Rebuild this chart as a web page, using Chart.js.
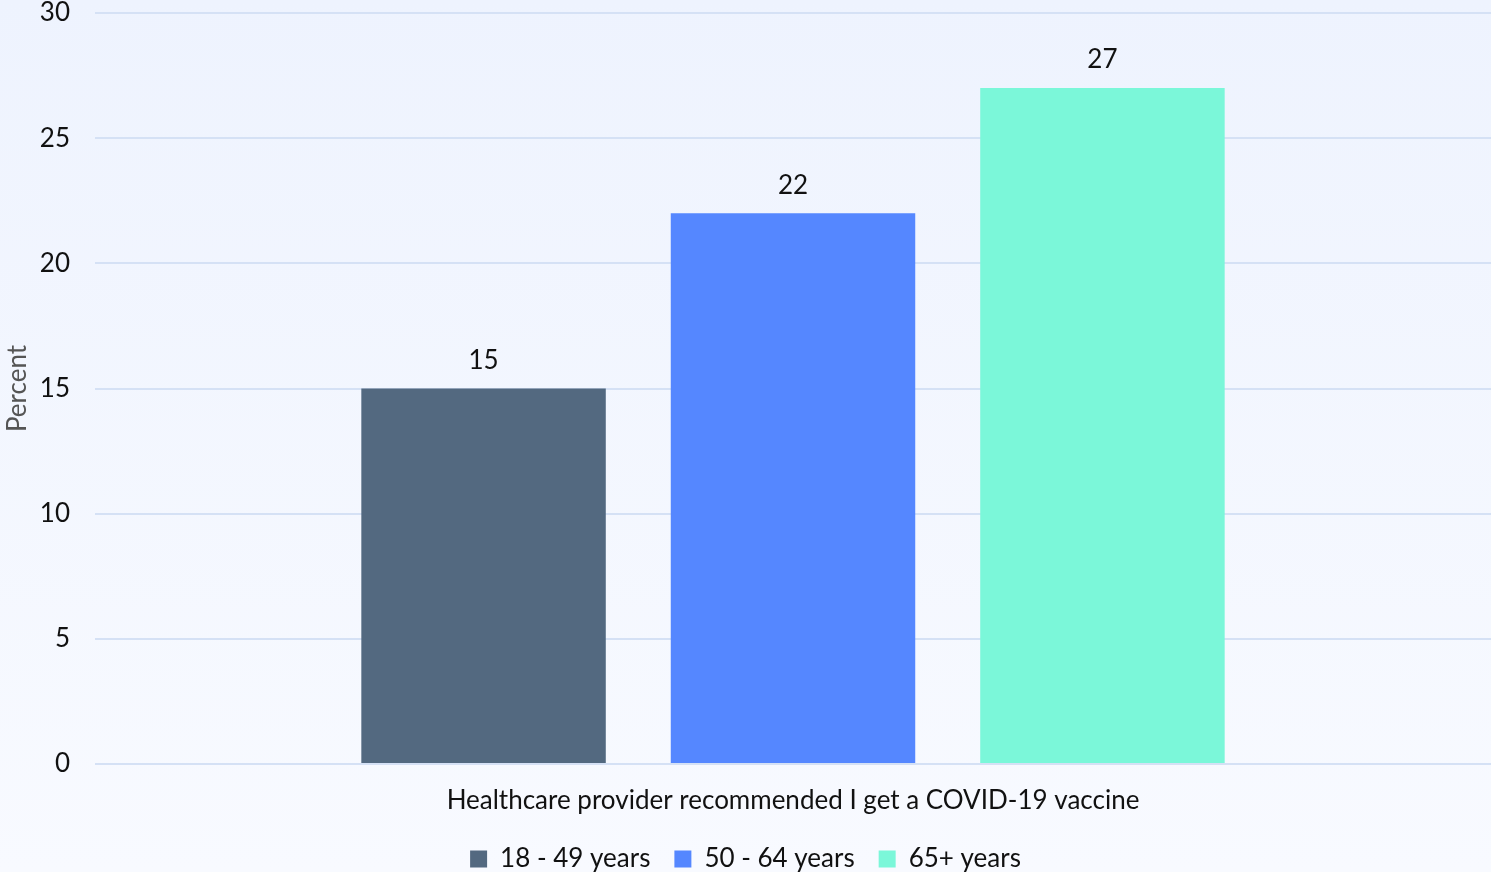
<!DOCTYPE html>
<html>
<head>
<meta charset="utf-8">
<script src="https://cdn.jsdelivr.net/npm/chart.js@4"></script>
<style>
    html, body { margin: 0; padding: 0; }
    body { background: linear-gradient(#eef3fe, #f8faff); }
    #wrap { width: 1491px; height: 872px; position: relative; }
</style>
</head>
<body>
<div id="wrap"><canvas id="chart"></canvas></div>
<script>
const categories = ['Healthcare provider recommended I get a COVID-19 vaccine'];
const groups = ['18 - 49 years', '50 - 64 years', '65+ years'];
const groupValues = [[15], [22], [27]];
const groupColors = ['#536980', '#5587ff', '#7bf7d9'];
const yTicks = [0, 5, 10, 15, 20, 25, 30];

const fontFamily = "Lato, 'Open Sans', sans-serif";

// draws each bar's value just above it
const valueLabels = {
    id: 'valueLabels',
    afterDatasetsDraw(chart) {
        const ctx = chart.ctx;
        ctx.save();
        ctx.font = '26px ' + fontFamily;
        ctx.fillStyle = '#111';
        ctx.textAlign = 'center';
        ctx.textBaseline = 'middle';
        chart.data.datasets.forEach((ds, i) => {
            chart.getDatasetMeta(i).data.forEach((bar, j) => {
                ctx.fillText(ds.data[j], bar.x, bar.y - 28);
            });
        });
        ctx.restore();
    }
};

new Chart(document.getElementById('chart'), {
    type: 'bar',
    data: {
        labels: categories,
        datasets: groups.map((g, i) => ({
            label: g,
            data: groupValues[i],
            backgroundColor: groupColors[i],
            categoryPercentage: 0.665,
            barPercentage: 0.79
        }))
    },
    options: {
        responsive: true,
        maintainAspectRatio: false,
        animation: false,
        layout: { padding: { top: 0, right: 0, left: 0, bottom: -10 } },
        scales: {
            x: {
                grid: { display: false, drawTicks: false },
                border: { display: false },
                ticks: { color: '#111', font: { family: fontFamily, size: 26 }, padding: 21 },
                afterFit: axis => { axis.height = 58; }
            },
            y: {
                min: 0,
                max: 30,
                afterBuildTicks: axis => { axis.ticks = yTicks.map(v => ({ value: v })); },
                grid: { color: '#d5e1f5', lineWidth: 2, drawTicks: false },
                border: { display: false },
                ticks: { color: '#111', font: { family: fontFamily, size: 26 }, padding: 25 },
                title: {
                    display: true,
                    text: 'Percent',
                    color: '#555',
                    font: { family: fontFamily, size: 26 },
                    padding: 2
                },
                afterFit: axis => {
                    axis.width = 95;
                    axis.paddingTop = 13;
                    axis.paddingBottom = 0;
                }
            }
        },
        plugins: {
            legend: {
                position: 'bottom',
                labels: {
                    color: '#111',
                    font: { family: fontFamily, size: 26 },
                    boxWidth: 17,
                    boxHeight: 17,
                    padding: 24
                }
            },
            tooltip: { enabled: false }
        }
    },
    plugins: [valueLabels]
});
</script>
</body>
</html>
